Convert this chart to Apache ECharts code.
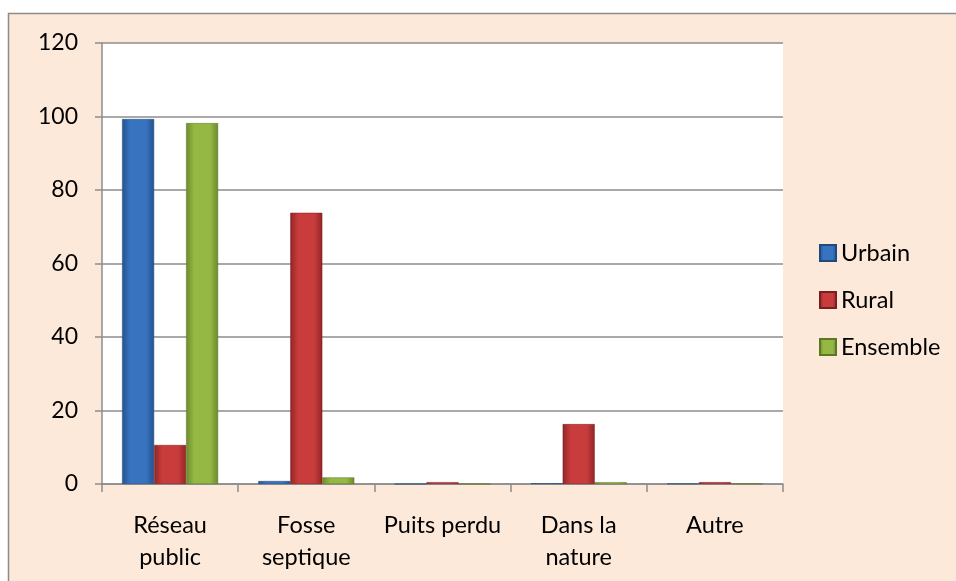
<!DOCTYPE html>
<html>
<head>
<meta charset="utf-8">
<script src="https://cdn.jsdelivr.net/npm/echarts@6/dist/echarts.min.js"></script>
<style>
  html, body { margin: 0; padding: 0; background: #fff; }
  #chart { width: 956px; height: 581px; }
</style>
</head>
<body>
<div id="chart"></div>
<script>
const categories = ['Réseau\npublic', 'Fosse\nseptique', 'Puits perdu', 'Dans la\nnature', 'Autre'];
const urbain = [99.3, 0.8, 0, 0.2, 0.1];
const rural = [10.6, 73.8, 0.5, 16.3, 0.5];
const ensemble = [98.2, 1.8, 0, 0.5, 0.1];

const fontFamily = 'Lato, "Open Sans", sans-serif';

// dégradé horizontal pour imiter le biseau Excel
const barGradient = (dark, light) => ({
  type: 'linear',
  x: 0,
  y: 0,
  x2: 1,
  y2: 0,
  colorStops: [
    { offset: 0, color: dark },
    { offset: 0.25, color: light },
    { offset: 0.75, color: light },
    { offset: 1, color: dark }
  ]
});

const makeSeries = (name, data, dark, light, border) => ({
  name,
  type: 'bar',
  data,
  barWidth: 32,
  barGap: '0%',
  itemStyle: {
    color: barGradient(dark, light),
    borderColor: border,
    borderWidth: 0.5
  }
});

const chart = echarts.init(document.getElementById('chart'));

chart.setOption({
  animation: false,
  graphic: [
    {
      type: 'rect',
      z: -10,
      shape: { x: 8.5, y: 13.5, width: 1000, height: 1000 },
      style: { fill: '#fde9da', stroke: '#8c8c8c', lineWidth: 1.5 }
    }
  ],
  grid: {
    left: 102,
    top: 43,
    right: 173,
    bottom: 97,
    show: true,
    backgroundColor: '#ffffff',
    borderWidth: 0
  },
  legend: {
    orient: 'vertical',
    left: 814,
    top: 236,
    itemWidth: 16,
    itemHeight: 16,
    itemGap: 23,
    icon: 'rect',
    textStyle: { fontFamily, fontSize: 23.5, color: '#000' },
    data: ['Urbain', 'Rural', 'Ensemble']
  },
  xAxis: {
    type: 'category',
    data: categories,
    axisLine: { lineStyle: { color: '#8c8c8c', width: 1.5 } },
    axisTick: { show: true, length: 8, lineStyle: { color: '#8c8c8c', width: 1.5 } },
    axisLabel: {
      fontFamily,
      fontSize: 23.5,
      color: '#000',
      margin: 25,
      lineHeight: 32,
      interval: 0
    }
  },
  yAxis: {
    type: 'value',
    min: 0,
    max: 120,
    interval: 20,
    axisLine: { show: true, lineStyle: { color: '#8c8c8c', width: 1.5 } },
    axisTick: { show: true, length: 7, lineStyle: { color: '#8c8c8c', width: 1.5 } },
    axisLabel: { fontFamily, fontSize: 23, color: '#000', margin: 24 },
    splitLine: { lineStyle: { color: '#8c8c8c', width: 1.5 } }
  },
  series: [
    makeSeries('Urbain', urbain, '#24538f', '#3873bf', '#1f4a80'),
    makeSeries('Rural', rural, '#922626', '#c83c3c', '#7a1f1f'),
    makeSeries('Ensemble', ensemble, '#6d8a2c', '#95b844', '#5d7725')
  ]
});
</script>
</body>
</html>
